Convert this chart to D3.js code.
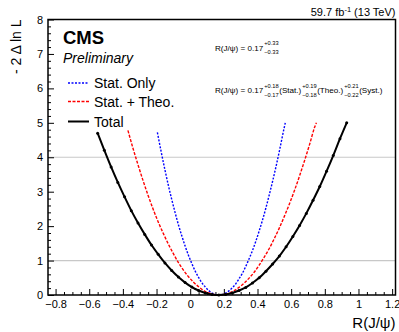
<!DOCTYPE html>
<html>
<head>
<meta charset="utf-8">
<script src="https://cdn.jsdelivr.net/npm/d3@7"></script>
<style>
  body { margin: 0; background: #fff; }
  text { font-family: "Liberation Sans", Arial, Helvetica, sans-serif; fill: #000; }
</style>
</head>
<body>
<svg id="chart" width="399" height="332"></svg>
<script>
// Likelihood scans: R(J/psi) vs -2 delta ln L
const totalX = [-0.55, -0.51, -0.47, -0.43, -0.39, -0.35, -0.31, -0.27, -0.23, -0.19, -0.15, -0.11, -0.07, -0.03, 0.01, 0.05, 0.09, 0.13, 0.17,
  0.21, 0.25, 0.29, 0.33, 0.37, 0.41, 0.45, 0.49, 0.53, 0.57, 0.61, 0.65, 0.69, 0.73, 0.77, 0.81, 0.85, 0.89, 0.93];
const totalY = [4.70, 4.20, 3.72, 3.27, 2.85, 2.45, 2.09, 1.76, 1.45, 1.18, 0.93, 0.71, 0.52, 0.36, 0.23, 0.13, 0.06, 0.015, 0,
  0.014, 0.056, 0.13, 0.22, 0.35, 0.50, 0.69, 0.90, 1.13, 1.40, 1.70, 2.02, 2.37, 2.75, 3.15, 3.59, 4.05, 4.54, 5.00];

const theoX = [-0.37, -0.34, -0.31, -0.28, -0.25, -0.22, -0.19, -0.16, -0.13, -0.10, -0.07, -0.04, -0.01, 0.02, 0.05, 0.08, 0.11, 0.14, 0.17,
  0.20, 0.23, 0.26, 0.29, 0.32, 0.35, 0.38, 0.41, 0.44, 0.47, 0.50, 0.53, 0.56, 0.59, 0.62, 0.65, 0.68, 0.71, 0.74, 0.75];
const theoY = [4.78, 4.26, 3.78, 3.32, 2.89, 2.49, 2.12, 1.79, 1.48, 1.20, 0.94, 0.72, 0.53, 0.37, 0.24, 0.13, 0.06, 0.015, 0,
  0.014, 0.054, 0.12, 0.22, 0.34, 0.49, 0.66, 0.87, 1.10, 1.35, 1.64, 1.95, 2.29, 2.65, 3.04, 3.46, 3.91, 4.38, 4.88, 5.00];

const statX = [-0.195, -0.17, -0.15, -0.13, -0.11, -0.09, -0.07, -0.05, -0.03, -0.01, 0.01, 0.03, 0.05, 0.07, 0.09, 0.11, 0.13, 0.15, 0.17,
  0.19, 0.21, 0.23, 0.25, 0.27, 0.29, 0.31, 0.33, 0.35, 0.37, 0.39, 0.41, 0.43, 0.45, 0.47, 0.49, 0.51, 0.53, 0.55, 0.565];
const statY = [4.72, 4.10, 3.63, 3.19, 2.78, 2.40, 2.04, 1.72, 1.42, 1.15, 0.91, 0.69, 0.51, 0.35, 0.23, 0.13, 0.057, 0.014, 0,
  0.013, 0.052, 0.12, 0.21, 0.32, 0.47, 0.63, 0.83, 1.05, 1.29, 1.56, 1.86, 2.18, 2.53, 2.91, 3.31, 3.73, 4.18, 4.66, 5.00];

const xMajor = [-0.8, -0.6, -0.4, -0.2, 0, 0.2, 0.4, 0.6, 0.8, 1, 1.2];
const yMajor = [0, 1, 2, 3, 4, 5, 6, 7, 8];
const gridLevels = [1, 4];

const legendLabels = ["Stat. Only", "Stat. + Theo.", "Total"];

const svg = d3.select("#chart");
const padL = 48, padR = 395.5, padT = 19.5, padB = 295;

const x = d3.scaleLinear().domain([-0.845, 1.22]).range([padL, padR]);
const y = d3.scaleLinear().domain([0, 8]).range([padB, padT]);

// grid lines at 1 and 4
svg.selectAll("line.grid").data(gridLevels).enter().append("line")
  .attr("class", "grid")
  .attr("x1", padL).attr("x2", padR)
  .attr("y1", d => y(d)).attr("y2", d => y(d))
  .attr("stroke", "#c8c8c8").attr("stroke-width", 1.2);

// minor ticks
const xMinor = d3.range(-16, 25).map(i => i * 0.05).filter(v => Math.abs(v * 5 - Math.round(v * 5)) > 1e-6);
const yMinor = d3.range(0, 41).map(i => i * 0.2).filter(v => Math.abs(v - Math.round(v)) > 1e-6);

svg.append("g").attr("transform", `translate(0,${padB})`)
  .call(d3.axisBottom(x).tickValues(xMinor).tickSizeInner(-3).tickSizeOuter(0).tickFormat(""))
  .call(g => g.select(".domain").remove());
svg.append("g").attr("transform", `translate(${padL},0)`)
  .call(d3.axisLeft(y).tickValues(yMinor).tickSizeInner(-3).tickSizeOuter(0).tickFormat(""))
  .call(g => g.select(".domain").remove());

// major ticks
const fmt = d3.format("~g");
const gx = svg.append("g").attr("transform", `translate(0,${padB})`)
  .call(d3.axisBottom(x).tickValues(xMajor).tickSizeInner(-6).tickSizeOuter(0).tickPadding(5).tickFormat(fmt));
gx.select(".domain").remove();
gx.selectAll("text").attr("font-size", 11).attr("font-family", "Liberation Sans, Arial, sans-serif");

const gy = svg.append("g").attr("transform", `translate(${padL},0)`)
  .call(d3.axisLeft(y).tickValues(yMajor).tickSizeInner(-6).tickSizeOuter(0).tickPadding(5).tickFormat(fmt));
gy.select(".domain").remove();
gy.selectAll("text").attr("font-size", 11).attr("font-family", "Liberation Sans, Arial, sans-serif");

svg.selectAll(".tick line").attr("stroke", "#000").attr("stroke-width", 1);

// curves
const line = d3.line().x(d => x(d[0])).y(d => y(d[1])).curve(d3.curveMonotoneX);
const series = [
  { xs: statX, ys: statY, color: "#0000ff", dash: "2,1.5", width: 1.4 },
  { xs: theoX, ys: theoY, color: "#ff0000", dash: "3,1.5", width: 1.4 },
  { xs: totalX, ys: totalY, color: "#000", dash: null, width: 2 }
];
series.forEach(s => {
  svg.append("path")
    .datum(d3.zip(s.xs, s.ys))
    .attr("d", line)
    .attr("fill", "none")
    .attr("stroke", s.color)
    .attr("stroke-width", s.width)
    .attr("stroke-dasharray", s.dash);
});
svg.selectAll("circle.pt").data(d3.zip(totalX, totalY)).enter().append("circle")
  .attr("class", "pt")
  .attr("cx", d => x(d[0])).attr("cy", d => y(d[1]))
  .attr("r", 1.5).attr("fill", "#000");

// frame
svg.append("rect")
  .attr("x", padL).attr("y", padT)
  .attr("width", padR - padL).attr("height", padB - padT)
  .attr("fill", "none").attr("stroke", "#000").attr("stroke-width", 1.5);

// titles
svg.append("text").attr("x", padR).attr("y", 16)
  .attr("text-anchor", "end").attr("font-size", 11)
  .html('59.7 fb<tspan dy="-4" font-size="7.5">-1</tspan><tspan dy="4"> (13 TeV)</tspan>');

svg.append("text")
  .attr("transform", `translate(21,${padT}) rotate(-90)`)
  .attr("text-anchor", "end").attr("font-size", 14)
  .text("- 2 \u0394 ln L");

svg.append("text").attr("x", padR).attr("y", 328)
  .attr("text-anchor", "end").attr("font-size", 15)
  .text("R(J/\u03c8)");

svg.append("text").attr("x", 63).attr("y", 44)
  .attr("font-size", 18.5).attr("font-weight", "bold").text("CMS");
svg.append("text").attr("x", 63).attr("y", 63)
  .attr("font-size", 14).attr("font-style", "italic").text("Preliminary");

// legend
const legendY = [83, 101.5, 121.5];
legendLabels.forEach((label, i) => {
  const s = series[i];
  svg.append("line")
    .attr("x1", 68).attr("x2", 89)
    .attr("y1", legendY[i]).attr("y2", legendY[i])
    .attr("stroke", s.color).attr("stroke-width", s.width)
    .attr("stroke-dasharray", s.dash);
  svg.append("text").attr("x", 94).attr("y", legendY[i] + 5)
    .attr("font-size", 14).text(label);
});

// result annotations with stacked up/down errors
function annotate(x0, y0, parts) {
  let cx = x0;
  parts.forEach(p => {
    if (typeof p === "string") {
      const t = svg.append("text").attr("x", cx).attr("y", y0).attr("font-size", 8.1).text(p);
      cx += t.node().getComputedTextLength();
    } else {
      const up = svg.append("text").attr("x", cx + 1).attr("y", y0 - 5.5).attr("font-size", 5.7).text(p[0]);
      const dn = svg.append("text").attr("x", cx + 1).attr("y", y0 + 3.8).attr("font-size", 5.7).text(p[1]);
      cx += Math.max(up.node().getComputedTextLength(), dn.node().getComputedTextLength()) + 1.5;
    }
  });
}
annotate(215, 50.5, ["R(J/\u03c8) = 0.17", ["+0.33", "\u22120.33"]]);
annotate(215, 93, ["R(J/\u03c8) = 0.17", ["+0.18", "\u22120.17"], "(Stat.)", ["+0.19", "\u22120.18"], "(Theo.)", ["+0.21", "\u22120.22"], "(Syst.)"]);
</script>
</body>
</html>
